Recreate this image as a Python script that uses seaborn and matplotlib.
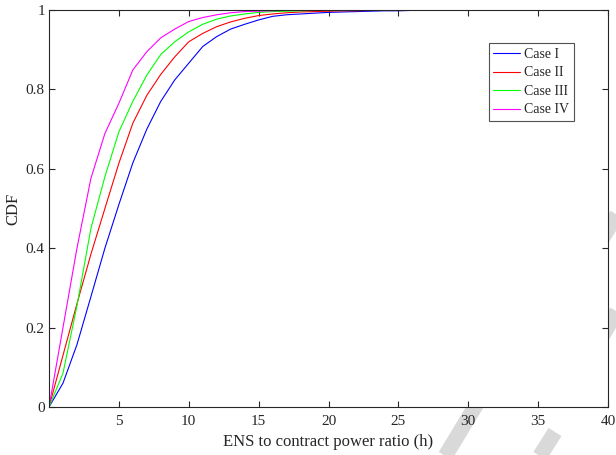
import numpy as np
import pandas as pd
import matplotlib
matplotlib.use("Agg")
import matplotlib.pyplot as plt
from matplotlib.lines import Line2D
import seaborn as sns

# ENS / contract power ratio (h), one point per hour
ens_ratio = list(range(0, 41))

case_1 = [0, 0.06, 0.157, 0.278, 0.40, 0.51, 0.615, 0.70, 0.77, 0.824, 0.866,
          0.908, 0.933, 0.952, 0.964, 0.975, 0.984, 0.988, 0.990, 0.992, 0.994,
          0.995, 0.996, 0.997, 0.998, 0.998, 0.999, 0.999, 1.0, 1.0, 1.0,
          1.0, 1.0, 1.0, 1.0, 1.0, 1.0, 1.0, 1.0, 1.0, 1.0]
case_2 = [0, 0.13, 0.26, 0.385, 0.50, 0.614, 0.715, 0.785, 0.838, 0.882, 0.92,
          0.941, 0.958, 0.970, 0.979, 0.986, 0.990, 0.993, 0.995, 0.996, 0.997,
          0.998, 0.998, 0.999, 0.999, 1.0, 1.0, 1.0, 1.0, 1.0, 1.0,
          1.0, 1.0, 1.0, 1.0, 1.0, 1.0, 1.0, 1.0, 1.0, 1.0]
case_3 = [0, 0.085, 0.255, 0.45, 0.58, 0.693, 0.77, 0.836, 0.888, 0.92, 0.945,
          0.964, 0.977, 0.985, 0.990, 0.994, 0.996, 0.997, 0.998, 0.999, 0.999,
          1.0, 1.0, 1.0, 1.0, 1.0, 1.0, 1.0, 1.0, 1.0, 1.0,
          1.0, 1.0, 1.0, 1.0, 1.0, 1.0, 1.0, 1.0, 1.0, 1.0]
case_4 = [0, 0.20, 0.40, 0.576, 0.689, 0.765, 0.849, 0.895, 0.93, 0.952, 0.971,
          0.981, 0.988, 0.993, 0.996, 0.997, 0.998, 0.999, 0.999, 1.0, 1.0,
          1.0, 1.0, 1.0, 1.0, 1.0, 1.0, 1.0, 1.0, 1.0, 1.0,
          1.0, 1.0, 1.0, 1.0, 1.0, 1.0, 1.0, 1.0, 1.0, 1.0]

case_names = ["Case I", "Case II", "Case III", "Case IV"]
case_colors = ["#0000ff", "#ff0000", "#00ff00", "#ff00ff"]

x_ticks = [5, 10, 15, 20, 25, 30, 35, 40]
y_ticks = [0, 0.2, 0.4, 0.6, 0.8, 1]
y_tick_labels = ["0", "0.2", "0.4", "0.6", "0.8", "1"]

# long format for seaborn
df = pd.concat([
    pd.DataFrame({"ratio": ens_ratio, "cdf": vals, "case": name})
    for name, vals in zip(case_names, [case_1, case_2, case_3, case_4])
], ignore_index=True)

sns.set_style("ticks")
plt.rcParams["font.family"] = ["Liberation Serif", "DejaVu Serif"]

fig = plt.figure(figsize=(6.16, 4.55), dpi=100)
ax = fig.add_axes([49 / 616, 48 / 455, 559 / 616, 397 / 455])
ax.set_zorder(1)
ax.set_facecolor("white")

# grey watermark stripes behind the axes (figure pixel coords)
W, H = 616.0, 455.0
stripes = [((438, 468), (490, 382)),
           ((526, 478), (555, 432)),
           ((597, 247), (628, 197)),
           ((598, 343), (630, 290))]
for (x0, y0), (x1, y1) in stripes:
    fig.add_artist(Line2D([x0 / W, x1 / W], [1 - y0 / H, 1 - y1 / H],
                          transform=fig.transFigure, color="#d9d9d9",
                          lw=11, solid_capstyle="butt", zorder=0))

sns.lineplot(data=df, x="ratio", y="cdf", hue="case", palette=case_colors,
             hue_order=case_names, linewidth=0.8, ax=ax)

ax.set_xlim(0, 40)
ax.set_ylim(0, 1)
ax.set_xticks(x_ticks)
ax.set_xticklabels([str(t) for t in x_ticks])
ax.set_yticks(y_ticks)
ax.set_yticklabels(y_tick_labels)
ax.tick_params(direction="in", length=4, width=0.8, top=True, right=True,
               labelsize=11, colors="#262626")
ax.tick_params(axis="x", pad=6)
ax.tick_params(axis="y", pad=3)
for sp in ax.spines.values():
    sp.set_visible(True)
    sp.set_linewidth(0.8)
    sp.set_color("#262626")

ax.set_xlabel("ENS to contract power ratio (h)", fontsize=12, color="#262626", labelpad=4)
ax.set_ylabel("CDF", fontsize=12, color="#262626", labelpad=3)

handles = [Line2D([], [], color=c, lw=0.8) for c in case_colors]
leg = ax.legend(handles, case_names, loc="upper right",
                bbox_to_anchor=(0.939, 0.917), fontsize=10, frameon=True,
                fancybox=False, edgecolor="#262626", handlelength=1.9,
                handletextpad=0.3, borderpad=0.35, labelspacing=0.4,
                borderaxespad=0)
leg.get_frame().set_linewidth(0.8)

fig.savefig("out.png", dpi=100)
